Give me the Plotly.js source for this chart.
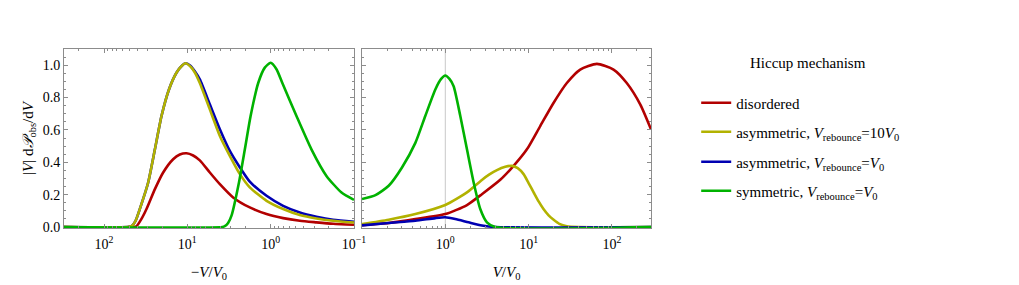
<!DOCTYPE html>
<html>
<head>
<meta charset="utf-8">
<script src="https://cdn.plot.ly/plotly-3.0.1.min.js"></script>
<style>html,body{margin:0;padding:0;background:#fff;}#chart{width:1019px;height:285px;}</style>
</head>
<body>
<div id="chart"></div>
<script>
// ---- series names ----
const seriesNames = [
  "disordered",
  "asymmetric, <i>V</i><sub>rebounce</sub>=10<i>V</i><sub>0</sub>",
  "asymmetric, <i>V</i><sub>rebounce</sub>=<i>V</i><sub>0</sub>",
  "symmetric, <i>V</i><sub>rebounce</sub>=<i>V</i><sub>0</sub>"
];
const seriesColors = ["#b20000", "#b2b200", "#0000b2", "#00b200"];

// ---- left panel: |V|/V0 for negative V ----
const redLeftX = [302, 44.7, 40.7, 35.5, 30.9, 24.5, 19.5, 14.8, 12.3, 10.2, 8.51, 7.08, 5.37, 4.07, 2.82, 1.78, 1.12, 0.708, 0.447, 0.282, 0.178, 0.1];
const redLeftY = [0, 0, 0.005, 0.05, 0.111, 0.234, 0.337, 0.419, 0.448, 0.456, 0.442, 0.412, 0.337, 0.265, 0.183, 0.121, 0.08, 0.055, 0.039, 0.029, 0.02, 0.014];

const asym10LeftX = [302, 52.5, 46.8, 41.7, 37.2, 29.5, 24.5, 20.4, 16.6, 13.5, 11.7, 10.5, 9.12, 8.13, 7.08, 5.37, 4.07, 3.09, 2.34, 1.78, 1.12, 0.708, 0.447, 0.282, 0.178, 0.1];
const asym10LeftY = [0, 0, 0.005, 0.04, 0.111, 0.275, 0.48, 0.686, 0.85, 0.953, 0.995, 1.012, 0.99, 0.955, 0.89, 0.727, 0.563, 0.44, 0.327, 0.245, 0.162, 0.111, 0.074, 0.053, 0.039, 0.028];

const asym1LeftX = [302, 52.5, 46.8, 41.7, 37.2, 29.5, 24.5, 20.4, 16.6, 13.5, 11.7, 10.5, 9.12, 8.13, 7.08, 5.37, 4.07, 3.09, 2.34, 1.78, 1.12, 0.708, 0.447, 0.282, 0.178, 0.1];
const asym1LeftY = [0, 0, 0.005, 0.04, 0.111, 0.275, 0.48, 0.686, 0.85, 0.953, 0.995, 1.012, 0.995, 0.962, 0.912, 0.758, 0.604, 0.47, 0.368, 0.28, 0.193, 0.131, 0.09, 0.064, 0.045, 0.033];

const symLeftX = [302, 3.8, 3.55, 3.24, 2.95, 2.4, 2.04, 1.74, 1.41, 1.175, 1.0, 0.851, 0.724, 0.49, 0.324, 0.214, 0.141, 0.1];
const symLeftY = [0, 0, 0.005, 0.025, 0.07, 0.275, 0.48, 0.686, 0.89, 0.985, 1.015, 0.975, 0.89, 0.686, 0.48, 0.316, 0.213, 0.168];

// ---- right panel: V/V0 for positive V ----
const redRightX = [0.1, 0.209, 0.437, 1.0, 1.82, 2.75, 4.57, 6.61, 9.55, 13.8, 20, 28.8, 41.7, 66.1, 104.7, 151, 219, 295];
const redRightY = [0.012, 0.025, 0.049, 0.08, 0.136, 0.203, 0.292, 0.378, 0.48, 0.624, 0.768, 0.89, 0.973, 1.008, 0.973, 0.89, 0.758, 0.604];

const asym10RightX = [0.1, 0.209, 0.437, 1.0, 1.82, 2.75, 3.39, 4.17, 5.25, 6.31, 7.41, 8.71, 10.0, 11.5, 13.2, 15.1, 17.4, 20, 23.4, 28.8, 39.8, 295];
const asym10RightY = [0.018, 0.045, 0.08, 0.136, 0.214, 0.291, 0.325, 0.352, 0.372, 0.378, 0.364, 0.327, 0.272, 0.214, 0.158, 0.111, 0.072, 0.045, 0.02, 0.005, 0, 0];

const asym1RightX = [0.1, 0.209, 0.437, 0.759, 1.0, 1.318, 1.905, 2.75, 3.98, 295];
const asym1RightY = [0.01, 0.025, 0.039, 0.055, 0.06, 0.049, 0.029, 0.01, 0, 0];

const symRightX = [0.1, 0.145, 0.209, 0.302, 0.437, 0.575, 0.759, 0.891, 1.0, 1.122, 1.259, 1.514, 1.82, 2.19, 2.63, 3.16, 3.98, 295];
const symRightY = [0.173, 0.197, 0.255, 0.368, 0.52, 0.686, 0.85, 0.915, 0.936, 0.915, 0.87, 0.686, 0.48, 0.275, 0.111, 0.029, 0, 0];

// ---- ticks ----
const leftTickVals = [100, 10, 1, 0.1];
const leftTickText = ["10<sup>2</sup>", "10<sup>1</sup>", "10<sup>0</sup>", "10<sup>\u22121</sup>"];
const rightTickVals = [1, 10, 100];
const rightTickText = ["10<sup>0</sup>", "10<sup>1</sup>", "10<sup>2</sup>"];
const legendTitle = "Hiccup mechanism";
const xTitleLeft = "\u2212<i>V</i>/<i>V</i><sub>0</sub>";
const xTitleRight = "<i>V</i>/<i>V</i><sub>0</sub>";
const yTitle = "|<i>V</i>| d<i>\u{1D4AB}</i><sub>obs</sub>/d<i>V</i>";

const leftData = [[redLeftX, redLeftY], [asym10LeftX, asym10LeftY], [asym1LeftX, asym1LeftY], [symLeftX, symLeftY]];
const rightData = [[redRightX, redRightY], [asym10RightX, asym10RightY], [asym1RightX, asym1RightY], [symRightX, symRightY]];
const legendIds = ["legend", "legend2", "legend3", "legend4"];

const traces = [];
[0, 1, 2, 3].forEach(i => {
  traces.push({x: rightData[i][0], y: rightData[i][1], xaxis: "x2", yaxis: "y2", mode: "lines", showlegend: true,
    legend: legendIds[i], line: {color: seriesColors[i], width: 2.6, shape: "spline", smoothing: 0.6},
    legendgroup: "g" + i, name: seriesNames[i]});
});
[2, 0, 1, 3].forEach(i => {
  traces.push({x: leftData[i][0], y: leftData[i][1], xaxis: "x", yaxis: "y", mode: "lines", showlegend: false,
    legend: legendIds[i], line: {color: seriesColors[i], width: 2.6, shape: "spline", smoothing: 0.6},
    legendgroup: "g" + i, name: seriesNames[i]});
});

const serif = "Liberation Serif, Times New Roman, serif";
const frameColor = "#8c8c8c";
const axBase = {
  type: "log", showgrid: false, zeroline: false, showline: true, linecolor: frameColor, linewidth: 1,
  mirror: "ticks", ticks: "inside", ticklen: 4, tickcolor: frameColor, ticklabelstandoff: 3,
  minor: {ticks: "inside", ticklen: 2, tickcolor: frameColor, dtick: "D1"},
  tickfont: {family: serif, size: 14, color: "#000"}, autorange: false
};
const yBase = {
  range: [-0.006, 1.1], dtick: 0.2, tick0: 0, tickformat: ".1f", showgrid: false, zeroline: false,
  showline: true, linecolor: frameColor, linewidth: 1, mirror: "ticks", ticks: "inside", ticklen: 4, tickcolor: frameColor,
  minor: {ticks: "inside", ticklen: 2, tickcolor: frameColor, dtick: 0.05},
  tickfont: {family: serif, size: 14, color: "#000"}, autorange: false
};

const legendBase = {x: 1.077, xanchor: "left", yanchor: "middle", bgcolor: "rgba(0,0,0,0)",
  font: {family: serif, size: 15, color: "#000"}, itemwidth: 30};
const legendY = [0.698, 0.536, 0.369, 0.207];

const layout = {
  width: 1019, height: 285,
  margin: {l: 64, r: 368, t: 49, b: 57},
  paper_bgcolor: "#fff", plot_bgcolor: "#fff",
  font: {family: serif, size: 14, color: "#000"},
  xaxis: Object.assign({}, axBase, {domain: [0, 0.494], range: [2.48, -1], tickvals: leftTickVals, ticktext: leftTickText,
    anchor: "y", title: {text: xTitleLeft, font: {family: serif, size: 15}, standoff: 15}}),
  xaxis2: Object.assign({}, axBase, {domain: [0.5077, 1], range: [-1, 2.47], tickvals: rightTickVals, ticktext: rightTickText,
    anchor: "y2", title: {text: xTitleRight, font: {family: serif, size: 15}, standoff: 15}}),
  yaxis: Object.assign({}, yBase, {anchor: "x", title: {text: yTitle, font: {family: serif, size: 15}, standoff: 5}}),
  yaxis2: Object.assign({}, yBase, {anchor: "x2", matches: "y", showticklabels: false}),
  shapes: [{type: "line", xref: "x2", yref: "y2 domain", x0: 1, x1: 1, y0: 0, y1: 1, layer: "below",
            line: {color: "#c8c8c8", width: 1}}],
  showlegend: true,
  legend: Object.assign({}, legendBase, {y: legendY[0]}),
  legend2: Object.assign({}, legendBase, {y: legendY[1]}),
  legend3: Object.assign({}, legendBase, {y: legendY[2]}),
  legend4: Object.assign({}, legendBase, {y: legendY[3]}),
  annotations: [{text: legendTitle, xref: "paper", yref: "paper", x: 1.2675, y: 0.922, xanchor: "center", yanchor: "middle",
                 showarrow: false, font: {family: serif, size: 15, color: "#000"}}]
};

Plotly.newPlot("chart", traces, layout, {displayModeBar: false, staticPlot: true});
</script>
</body>
</html>
